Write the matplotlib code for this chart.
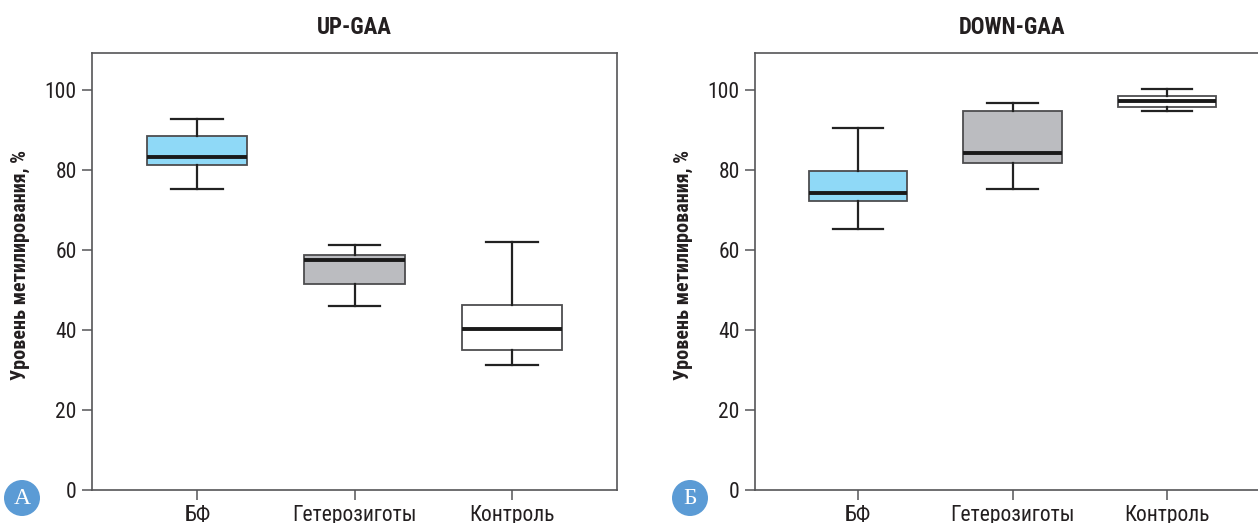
import matplotlib
matplotlib.use("Agg")
import matplotlib.pyplot as plt
from matplotlib import font_manager
from matplotlib.patches import Ellipse

names = {f.name for f in font_manager.fontManager.ttflist}
narrow = "Liberation Sans Narrow" if "Liberation Sans Narrow" in names else ("Roboto Condensed" if "Roboto Condensed" in names else "DejaVu Sans")
plt.rcParams['font.family'] = [narrow, 'DejaVu Sans']

categories = ["БФ", "Гетерозиготы", "Контроль"]
titles = ["UP-GAA", "DOWN-GAA"]
panel_letters = ["А", "Б"]
ylabel = "Уровень метилирования, %"
yticks = [0, 20, 40, 60, 80, 100]

# [whislo, q1, med, q3, whishi]
up_bf = [75.4, 81.3, 83.3, 88.6, 92.8]
up_het = [45.9, 51.6, 57.6, 58.8, 61.2]
up_ctrl = [31.3, 35.1, 40.2, 46.2, 62.0]
down_bf = [65.2, 72.4, 74.3, 79.8, 90.5]
down_het = [75.2, 81.8, 84.4, 94.8, 96.9]
down_ctrl = [94.7, 95.8, 97.4, 98.5, 100.3]

box_colors = ["#8fd9f7", "#bbbcc0", "#ffffff"]

fig = plt.figure(figsize=(12.58, 5.23), dpi=100)
W, H = 1258, 523
ax1 = fig.add_axes([92 / W, 1 - 490 / H, (617 - 92) / W, (490 - 53) / H])
ax2 = fig.add_axes([755 / W, 1 - 490 / H, (1270 - 755) / W, (490 - 53) / H])

def stats(v, label):
    return dict(whislo=v[0], q1=v[1], med=v[2], q3=v[3], whishi=v[4], fliers=[], label=label)

for ax, data, title in [(ax1, [up_bf, up_het, up_ctrl], titles[0]),
                        (ax2, [down_bf, down_het, down_ctrl], titles[1])]:
    st = [stats(v, c) for v, c in zip(data, categories)]
    bp = ax.bxp(st, positions=[1, 2, 3], widths=0.64, patch_artist=True, showfliers=False,
                boxprops=dict(edgecolor="#4d4d4f", linewidth=1.3),
                medianprops=dict(color="#1a1a1a", linewidth=2.8),
                whiskerprops=dict(color="#222222", linewidth=1.6),
                capprops=dict(color="#222222", linewidth=1.6),
                capwidths=0.33)
    for patch, c in zip(bp['boxes'], box_colors):
        patch.set_facecolor(c)
    ax.set_xlim(1 / 3, 11 / 3)
    ax.set_ylim(0, 109.3)
    ax.set_yticks(yticks)
    ax.set_yticklabels([str(t) for t in yticks])
    ax.set_xticks([1, 2, 3])
    ax.set_xticklabels(categories)
    for s in ax.spines.values():
        s.set_color("#555557")
        s.set_linewidth(1.2)
    ax.tick_params(axis='both', direction='out', length=7, width=1.1, color="#555557",
                   labelsize=15.5, labelcolor="#231f20")
    ax.tick_params(axis='y', pad=4)
    ax.tick_params(axis='x', pad=4)
    ax.set_title(title, fontsize=16.5, fontweight='bold', color="#231f20", pad=14)

ax2.spines['right'].set_visible(False)

fig.text(20 / W, 1 - 265 / H, ylabel, rotation=90, ha='center', va='center',
         fontsize=14.5, fontweight='bold', color="#231f20")
fig.text(683 / W, 1 - 265 / H, ylabel, rotation=90, ha='center', va='center',
         fontsize=14.5, fontweight='bold', color="#231f20")

for (cx, cy), letter in zip([(22, 498), (690, 498)], panel_letters):
    e = Ellipse((cx / W, 1 - cy / H), 36 / W, 36 / H, transform=fig.transFigure,
                facecolor="#5b9bd5", edgecolor="none")
    fig.patches.append(e)
    fig.text(cx / W, 1 - cy / H, letter, ha='center', va='center', fontsize=17,
             color="white", family=["Liberation Serif", "DejaVu Serif"])

fig.savefig("out.png", dpi=100)
